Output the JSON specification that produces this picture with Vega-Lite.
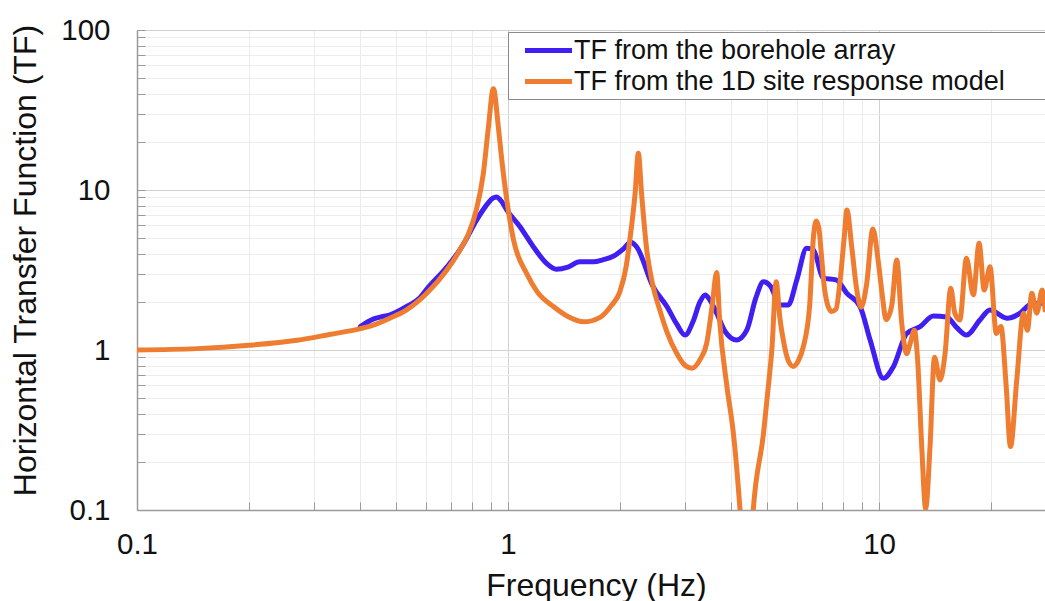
{
  "$schema": "https://vega.github.io/schema/vega-lite/v6.json",
  "width": 908,
  "height": 480,
  "autosize": {"type": "none"},
  "padding": {"left": 137, "top": 30, "right": 0, "bottom": 91},
  "background": "white",
  "config": {
    "view": {"stroke": null},
    "font": "Liberation Sans",
    "axis": {
      "labelFont": "Liberation Sans",
      "titleFont": "Liberation Sans",
      "labelFontSize": 29.5,
      "titleFontSize": 32,
      "labelColor": "#111111",
      "titleColor": "#111111",
      "titleFontWeight": "normal",
      "domainColor": "#9a9a9a",
      "domainWidth": 1.5,
      "tickColor": "#9a9a9a",
      "tickWidth": 1,
      "tickSize": -8,
      "labelOverlap": false,
      "labelFlush": false,
      "gridWidth": 1
    }
  },
  "data": {
    "values": [
      {"f": 0.4, "tf": 1.4, "series": "TF from the borehole array"},
      {"f": 0.433, "tf": 1.56, "series": "TF from the borehole array"},
      {"f": 0.46, "tf": 1.62, "series": "TF from the borehole array"},
      {"f": 0.481, "tf": 1.66, "series": "TF from the borehole array"},
      {"f": 0.533, "tf": 1.87, "series": "TF from the borehole array"},
      {"f": 0.579, "tf": 2.12, "series": "TF from the borehole array"},
      {"f": 0.604, "tf": 2.4, "series": "TF from the borehole array"},
      {"f": 0.684, "tf": 3.3, "series": "TF from the borehole array"},
      {"f": 0.74, "tf": 4.2, "series": "TF from the borehole array"},
      {"f": 0.774, "tf": 5.0, "series": "TF from the borehole array"},
      {"f": 0.82, "tf": 6.4, "series": "TF from the borehole array"},
      {"f": 0.87, "tf": 7.9, "series": "TF from the borehole array"},
      {"f": 0.91, "tf": 8.9, "series": "TF from the borehole array"},
      {"f": 0.93, "tf": 9.05, "series": "TF from the borehole array"},
      {"f": 0.96, "tf": 8.5, "series": "TF from the borehole array"},
      {"f": 0.992, "tf": 7.5, "series": "TF from the borehole array"},
      {"f": 1.077, "tf": 5.9, "series": "TF from the borehole array"},
      {"f": 1.17, "tf": 4.42, "series": "TF from the borehole array"},
      {"f": 1.27, "tf": 3.48, "series": "TF from the borehole array"},
      {"f": 1.35, "tf": 3.2, "series": "TF from the borehole array"},
      {"f": 1.45, "tf": 3.3, "series": "TF from the borehole array"},
      {"f": 1.56, "tf": 3.56, "series": "TF from the borehole array"},
      {"f": 1.7, "tf": 3.56, "series": "TF from the borehole array"},
      {"f": 1.8, "tf": 3.66, "series": "TF from the borehole array"},
      {"f": 1.92, "tf": 3.85, "series": "TF from the borehole array"},
      {"f": 2.05, "tf": 4.3, "series": "TF from the borehole array"},
      {"f": 2.14, "tf": 4.72, "series": "TF from the borehole array"},
      {"f": 2.22, "tf": 4.42, "series": "TF from the borehole array"},
      {"f": 2.46, "tf": 2.49, "series": "TF from the borehole array"},
      {"f": 2.68, "tf": 1.87, "series": "TF from the borehole array"},
      {"f": 2.85, "tf": 1.45, "series": "TF from the borehole array"},
      {"f": 3.0, "tf": 1.24, "series": "TF from the borehole array"},
      {"f": 3.15, "tf": 1.5, "series": "TF from the borehole array"},
      {"f": 3.29, "tf": 2.0, "series": "TF from the borehole array"},
      {"f": 3.4, "tf": 2.21, "series": "TF from the borehole array"},
      {"f": 3.5, "tf": 2.05, "series": "TF from the borehole array"},
      {"f": 3.65, "tf": 1.7, "series": "TF from the borehole array"},
      {"f": 3.85, "tf": 1.3, "series": "TF from the borehole array"},
      {"f": 4.13, "tf": 1.155, "series": "TF from the borehole array"},
      {"f": 4.4, "tf": 1.33, "series": "TF from the borehole array"},
      {"f": 4.65, "tf": 2.1, "series": "TF from the borehole array"},
      {"f": 4.88, "tf": 2.67, "series": "TF from the borehole array"},
      {"f": 5.1, "tf": 2.5, "series": "TF from the borehole array"},
      {"f": 5.41, "tf": 1.91, "series": "TF from the borehole array"},
      {"f": 5.69, "tf": 1.91, "series": "TF from the borehole array"},
      {"f": 6.0, "tf": 2.74, "series": "TF from the borehole array"},
      {"f": 6.38, "tf": 4.32, "series": "TF from the borehole array"},
      {"f": 6.65, "tf": 4.22, "series": "TF from the borehole array"},
      {"f": 7.08, "tf": 2.81, "series": "TF from the borehole array"},
      {"f": 7.66, "tf": 2.74, "series": "TF from the borehole array"},
      {"f": 8.19, "tf": 2.26, "series": "TF from the borehole array"},
      {"f": 8.89, "tf": 1.87, "series": "TF from the borehole array"},
      {"f": 9.46, "tf": 1.155, "series": "TF from the borehole array"},
      {"f": 10.27, "tf": 0.665, "series": "TF from the borehole array"},
      {"f": 10.93, "tf": 0.787, "series": "TF from the borehole array"},
      {"f": 11.87, "tf": 1.27, "series": "TF from the borehole array"},
      {"f": 12.9, "tf": 1.4, "series": "TF from the borehole array"},
      {"f": 14.0, "tf": 1.63, "series": "TF from the borehole array"},
      {"f": 15.2, "tf": 1.61, "series": "TF from the borehole array"},
      {"f": 16.2, "tf": 1.38, "series": "TF from the borehole array"},
      {"f": 17.2, "tf": 1.24, "series": "TF from the borehole array"},
      {"f": 18.7, "tf": 1.54, "series": "TF from the borehole array"},
      {"f": 19.9, "tf": 1.78, "series": "TF from the borehole array"},
      {"f": 22.1, "tf": 1.58, "series": "TF from the borehole array"},
      {"f": 24.0, "tf": 1.7, "series": "TF from the borehole array"},
      {"f": 25.4, "tf": 1.91, "series": "TF from the borehole array"},
      {"f": 27.2, "tf": 1.96, "series": "TF from the borehole array"},
      {"f": 28, "tf": 1.95, "series": "TF from the borehole array"},

      {"f": 0.1, "tf": 1.0, "series": "TF from the 1D site response model"},
      {"f": 0.145, "tf": 1.02, "series": "TF from the 1D site response model"},
      {"f": 0.2, "tf": 1.07, "series": "TF from the 1D site response model"},
      {"f": 0.27, "tf": 1.15, "series": "TF from the 1D site response model"},
      {"f": 0.33, "tf": 1.25, "series": "TF from the 1D site response model"},
      {"f": 0.4, "tf": 1.36, "series": "TF from the 1D site response model"},
      {"f": 0.433, "tf": 1.43, "series": "TF from the 1D site response model"},
      {"f": 0.48, "tf": 1.58, "series": "TF from the 1D site response model"},
      {"f": 0.533, "tf": 1.78, "series": "TF from the 1D site response model"},
      {"f": 0.604, "tf": 2.26, "series": "TF from the 1D site response model"},
      {"f": 0.684, "tf": 3.16, "series": "TF from the 1D site response model"},
      {"f": 0.742, "tf": 4.22, "series": "TF from the 1D site response model"},
      {"f": 0.782, "tf": 5.3, "series": "TF from the 1D site response model"},
      {"f": 0.82, "tf": 7.4, "series": "TF from the 1D site response model"},
      {"f": 0.858, "tf": 12.7, "series": "TF from the 1D site response model"},
      {"f": 0.885, "tf": 24.5, "series": "TF from the 1D site response model"},
      {"f": 0.913, "tf": 43, "series": "TF from the 1D site response model"},
      {"f": 0.942, "tf": 24.5, "series": "TF from the 1D site response model"},
      {"f": 0.962, "tf": 15.4, "series": "TF from the 1D site response model"},
      {"f": 0.992, "tf": 8.7, "series": "TF from the 1D site response model"},
      {"f": 1.034, "tf": 4.9, "series": "TF from the 1D site response model"},
      {"f": 1.123, "tf": 3.0, "series": "TF from the 1D site response model"},
      {"f": 1.2, "tf": 2.3, "series": "TF from the 1D site response model"},
      {"f": 1.325, "tf": 1.87, "series": "TF from the 1D site response model"},
      {"f": 1.45, "tf": 1.62, "series": "TF from the 1D site response model"},
      {"f": 1.6, "tf": 1.5, "series": "TF from the 1D site response model"},
      {"f": 1.77, "tf": 1.6, "series": "TF from the 1D site response model"},
      {"f": 1.9, "tf": 1.9, "series": "TF from the 1D site response model"},
      {"f": 2.0, "tf": 2.3, "series": "TF from the 1D site response model"},
      {"f": 2.08, "tf": 3.3, "series": "TF from the 1D site response model"},
      {"f": 2.13, "tf": 4.9, "series": "TF from the 1D site response model"},
      {"f": 2.2, "tf": 9.5, "series": "TF from the 1D site response model"},
      {"f": 2.245, "tf": 17, "series": "TF from the 1D site response model"},
      {"f": 2.29, "tf": 9.5, "series": "TF from the 1D site response model"},
      {"f": 2.36, "tf": 4.4, "series": "TF from the 1D site response model"},
      {"f": 2.45, "tf": 2.6, "series": "TF from the 1D site response model"},
      {"f": 2.57, "tf": 1.75, "series": "TF from the 1D site response model"},
      {"f": 2.68, "tf": 1.3, "series": "TF from the 1D site response model"},
      {"f": 2.85, "tf": 0.95, "series": "TF from the 1D site response model"},
      {"f": 3.0, "tf": 0.8, "series": "TF from the 1D site response model"},
      {"f": 3.13, "tf": 0.77, "series": "TF from the 1D site response model"},
      {"f": 3.3, "tf": 0.88, "series": "TF from the 1D site response model"},
      {"f": 3.43, "tf": 1.1, "series": "TF from the 1D site response model"},
      {"f": 3.55, "tf": 1.9, "series": "TF from the 1D site response model"},
      {"f": 3.65, "tf": 3.05, "series": "TF from the 1D site response model"},
      {"f": 3.72, "tf": 1.5, "series": "TF from the 1D site response model"},
      {"f": 3.89, "tf": 0.59, "series": "TF from the 1D site response model"},
      {"f": 4.05, "tf": 0.3, "series": "TF from the 1D site response model"},
      {"f": 4.22, "tf": 0.1, "series": "TF from the 1D site response model"},
      {"f": 4.32, "tf": 0.045, "series": "TF from the 1D site response model"},
      {"f": 4.48, "tf": 0.045, "series": "TF from the 1D site response model"},
      {"f": 4.58, "tf": 0.1, "series": "TF from the 1D site response model"},
      {"f": 4.88, "tf": 0.3, "series": "TF from the 1D site response model"},
      {"f": 5.05, "tf": 0.65, "series": "TF from the 1D site response model"},
      {"f": 5.14, "tf": 1.0, "series": "TF from the 1D site response model"},
      {"f": 5.28, "tf": 2.67, "series": "TF from the 1D site response model"},
      {"f": 5.4, "tf": 1.6, "series": "TF from the 1D site response model"},
      {"f": 5.52, "tf": 1.15, "series": "TF from the 1D site response model"},
      {"f": 5.7, "tf": 0.85, "series": "TF from the 1D site response model"},
      {"f": 5.87, "tf": 0.79, "series": "TF from the 1D site response model"},
      {"f": 6.05, "tf": 0.85, "series": "TF from the 1D site response model"},
      {"f": 6.25, "tf": 1.05, "series": "TF from the 1D site response model"},
      {"f": 6.5, "tf": 1.9, "series": "TF from the 1D site response model"},
      {"f": 6.65, "tf": 5.0, "series": "TF from the 1D site response model"},
      {"f": 6.77, "tf": 6.4, "series": "TF from the 1D site response model"},
      {"f": 6.88, "tf": 5.8, "series": "TF from the 1D site response model"},
      {"f": 7.0, "tf": 3.8, "series": "TF from the 1D site response model"},
      {"f": 7.1, "tf": 2.6, "series": "TF from the 1D site response model"},
      {"f": 7.25, "tf": 1.95, "series": "TF from the 1D site response model"},
      {"f": 7.45, "tf": 1.74, "series": "TF from the 1D site response model"},
      {"f": 7.65, "tf": 1.8, "series": "TF from the 1D site response model"},
      {"f": 7.85, "tf": 2.7, "series": "TF from the 1D site response model"},
      {"f": 8.05, "tf": 5.0, "series": "TF from the 1D site response model"},
      {"f": 8.19, "tf": 7.5, "series": "TF from the 1D site response model"},
      {"f": 8.44, "tf": 4.4, "series": "TF from the 1D site response model"},
      {"f": 8.7, "tf": 2.4, "series": "TF from the 1D site response model"},
      {"f": 8.95, "tf": 1.85, "series": "TF from the 1D site response model"},
      {"f": 9.26, "tf": 2.6, "series": "TF from the 1D site response model"},
      {"f": 9.62, "tf": 5.7, "series": "TF from the 1D site response model"},
      {"f": 9.96, "tf": 3.5, "series": "TF from the 1D site response model"},
      {"f": 10.2, "tf": 2.2, "series": "TF from the 1D site response model"},
      {"f": 10.44, "tf": 1.55, "series": "TF from the 1D site response model"},
      {"f": 10.82, "tf": 1.9, "series": "TF from the 1D site response model"},
      {"f": 11.16, "tf": 3.65, "series": "TF from the 1D site response model"},
      {"f": 11.51, "tf": 1.47, "series": "TF from the 1D site response model"},
      {"f": 11.87, "tf": 0.95, "series": "TF from the 1D site response model"},
      {"f": 12.13, "tf": 1.1, "series": "TF from the 1D site response model"},
      {"f": 12.45, "tf": 1.33, "series": "TF from the 1D site response model"},
      {"f": 12.7, "tf": 0.87, "series": "TF from the 1D site response model"},
      {"f": 13.03, "tf": 0.25, "series": "TF from the 1D site response model"},
      {"f": 13.35, "tf": 0.102, "series": "TF from the 1D site response model"},
      {"f": 13.72, "tf": 0.25, "series": "TF from the 1D site response model"},
      {"f": 14.1, "tf": 0.9, "series": "TF from the 1D site response model"},
      {"f": 14.6, "tf": 0.65, "series": "TF from the 1D site response model"},
      {"f": 15.06, "tf": 0.95, "series": "TF from the 1D site response model"},
      {"f": 15.6, "tf": 2.43, "series": "TF from the 1D site response model"},
      {"f": 16.0, "tf": 1.7, "series": "TF from the 1D site response model"},
      {"f": 16.5, "tf": 1.54, "series": "TF from the 1D site response model"},
      {"f": 17.2, "tf": 3.74, "series": "TF from the 1D site response model"},
      {"f": 17.95, "tf": 2.21, "series": "TF from the 1D site response model"},
      {"f": 18.6, "tf": 4.64, "series": "TF from the 1D site response model"},
      {"f": 19.2, "tf": 2.37, "series": "TF from the 1D site response model"},
      {"f": 19.9, "tf": 3.31, "series": "TF from the 1D site response model"},
      {"f": 20.7, "tf": 1.27, "series": "TF from the 1D site response model"},
      {"f": 21.3, "tf": 1.4, "series": "TF from the 1D site response model"},
      {"f": 22.0, "tf": 0.6, "series": "TF from the 1D site response model"},
      {"f": 22.6, "tf": 0.249, "series": "TF from the 1D site response model"},
      {"f": 23.5, "tf": 0.65, "series": "TF from the 1D site response model"},
      {"f": 24.5, "tf": 1.7, "series": "TF from the 1D site response model"},
      {"f": 25.1, "tf": 1.33, "series": "TF from the 1D site response model"},
      {"f": 25.8, "tf": 2.26, "series": "TF from the 1D site response model"},
      {"f": 26.6, "tf": 1.7, "series": "TF from the 1D site response model"},
      {"f": 27.5, "tf": 2.37, "series": "TF from the 1D site response model"},
      {"f": 28, "tf": 1.78, "series": "TF from the 1D site response model"}
    ]
  },
  "mark": {
    "type": "line",
    "interpolate": "monotone",
    "strokeWidth": 5,
    "strokeCap": "round",
    "strokeJoin": "round",
    "clip": true
  },
  "encoding": {
    "x": {
      "field": "f",
      "type": "quantitative",
      "scale": {"type": "log", "domain": [0.1, 28], "nice": false},
      "axis": {
        "values": [0.1, 0.2, 0.3, 0.4, 0.5, 0.6, 0.7, 0.8, 0.9, 1, 2, 3, 4, 5, 6, 7, 8, 9, 10, 20],
        "labelExpr": "datum.value == 0.1 ? '0.1' : datum.value == 1 ? '1' : datum.value == 10 ? '10' : ''",
        "labelPadding": 28,
        "labelBaseline": "top",
        "grid": true,
        "gridColor": {
          "condition": {"test": "datum.value == 0.1 || datum.value == 1 || datum.value == 10", "value": "#d2d2d2"},
          "value": "#ececec"
        },
        "title": "Frequency (Hz)",
        "titleBaseline": "alphabetic",
        "titleY": 85,
        "titleX": 459
      }
    },
    "y": {
      "field": "tf",
      "type": "quantitative",
      "scale": {"type": "log", "domain": [0.1, 100], "nice": false},
      "axis": {
        "values": [0.1, 0.2, 0.3, 0.4, 0.5, 0.6, 0.7, 0.8, 0.9, 1, 2, 3, 4, 5, 6, 7, 8, 9, 10, 20, 30, 40, 50, 60, 70, 80, 90, 100],
        "labelExpr": "datum.value == 0.1 ? '0.1' : datum.value == 1 ? '1' : datum.value == 10 ? '10' : datum.value == 100 ? '100' : ''",
        "labelPadding": 35,
        "grid": true,
        "gridColor": {
          "condition": {"test": "datum.value == 0.1 || datum.value == 1 || datum.value == 10 || datum.value == 100", "value": "#d2d2d2"},
          "value": "#ececec"
        },
        "title": "Horizontal Transfer Function (TF)",
        "titleFontSize": 32,
        "titleAngle": -90,
        "titleAlign": "center",
        "titleBaseline": "alphabetic",
        "titleX": -102,
        "titleY": 230
      }
    },
    "color": {
      "field": "series",
      "type": "nominal",
      "scale": {
        "domain": ["TF from the borehole array", "TF from the 1D site response model"],
        "range": ["#3f1ff2", "#ee7d31"]
      },
      "legend": {
        "title": null,
        "orient": "none",
        "legendX": 371,
        "legendY": 2,
        "direction": "vertical",
        "fillColor": "white",
        "strokeColor": "#8a8a8a",
        "padding": 4,
        "symbolType": "M-1.96,0H1.96",
        "symbolStrokeWidth": 5,
        "symbolSize": 576,
        "symbolOffset": 22,
        "labelFont": "Liberation Sans",
        "labelFontSize": 27,
        "labelColor": "#111111",
        "labelOffset": 11,
        "labelLimit": 900,
        "labelExpr": "datum.label + '\u00a0\u00a0\u00a0\u00a0\u00a0\u200b'",
        "rowPadding": 3
      }
    }
  }
}
